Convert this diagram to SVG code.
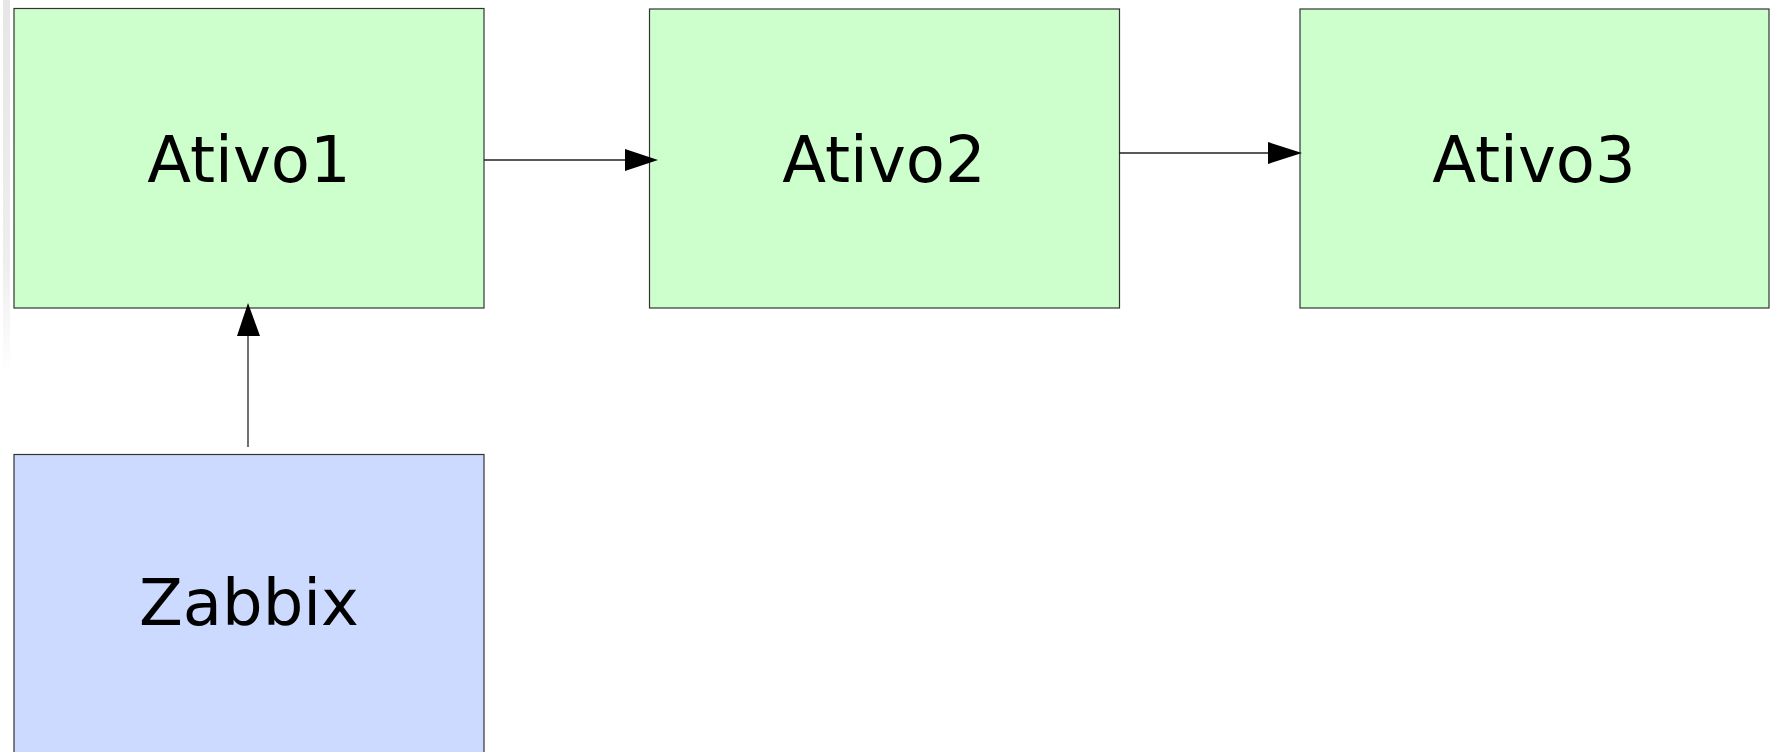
<svg xmlns="http://www.w3.org/2000/svg" width="1772" height="752" viewBox="0 0 1772 752">
  <defs>
    <style>
      .box{stroke:#333;stroke-width:1.2}
      .green{fill:#ccffcc}
      .blue{fill:#ccdaff}
      .lbl{font-family:"DejaVu Sans",sans-serif;font-size:64px;fill:#000;text-anchor:middle}
      .edge{stroke:#222;stroke-width:1.3;fill:none}
      .head{fill:#000}
    </style>
    <linearGradient id="sh" x1="0" y1="0" x2="0" y2="1">
      <stop offset="0" stop-color="#e6e6e6"/>
      <stop offset="0.7" stop-color="#eeeeee"/>
      <stop offset="1" stop-color="#ffffff"/>
    </linearGradient>
  </defs>
  <rect width="1772" height="752" fill="#fff"/>
  <rect x="3" y="0" width="7" height="375" fill="url(#sh)"/>
  <g id="ativo1">
    <rect class="box green" x="14" y="8.5" width="470" height="299.5"/>
    <text class="lbl" x="249" y="182">Ativo1</text>
  </g>
  <g id="ativo2">
    <rect class="box green" x="649.5" y="9" width="470" height="299"/>
    <text class="lbl" x="884" y="182">Ativo2</text>
  </g>
  <g id="ativo3">
    <rect class="box green" x="1300" y="9" width="469" height="299"/>
    <text class="lbl" x="1534" y="182">Ativo3</text>
  </g>
  <g id="zabbix">
    <rect class="box blue" x="14" y="454.5" width="470" height="300"/>
    <text class="lbl" x="249" y="625">Zabbix</text>
  </g>
  <g id="connectors">
    <line class="edge" x1="484" y1="160" x2="627" y2="160"/>
    <polygon class="head" points="625,149 658,160 625,171"/>
    <line class="edge" x1="1119" y1="153" x2="1270" y2="153"/>
    <polygon class="head" points="1268,142 1302,153 1268,164"/>
    <line class="edge" x1="248" y1="447" x2="248" y2="334"/>
    <polygon class="head" points="237,336 248,303 260,336"/>
  </g>
</svg>
